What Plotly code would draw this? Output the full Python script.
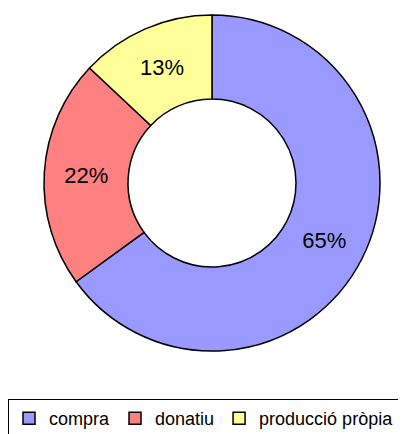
import plotly.graph_objects as go

labels = ["compra", "donatiu", "producció pròpia"]
values = [65, 22, 13]
colors = ["#9999FF", "#FF8080", "#FFFF99"]

# page body adds an 8px margin, so the figure is 8px smaller than the window
W, H = 398, 426

fig = go.Figure(
    go.Pie(
        labels=labels,
        values=values,
        hole=0.5,
        sort=False,
        direction="clockwise",
        rotation=0,
        marker=dict(colors=colors, line=dict(color="black", width=1.5)),
        textinfo="percent",
        texttemplate="%{percent:.0%}",
        textposition="inside",
        insidetextorientation="horizontal",
        textfont=dict(family="Arial, Liberation Sans", size=22, color="black"),
        domain=dict(x=[36 / W, 372 / W], y=[1 - 344 / H, 1 - 6 / H]),
    )
)

fig.update_layout(
    width=W,
    height=H,
    margin=dict(l=0, r=0, t=0, b=0, autoexpand=False),
    paper_bgcolor="white",
    font=dict(family="Arial, Liberation Sans", size=18, color="black"),
    legend=dict(
        orientation="h",
        x=0,
        y=1 - 391 / H,
        xanchor="left",
        yanchor="top",
        bordercolor="black",
        borderwidth=1,
        itemwidth=30,
        tracegroupgap=0,
    ),
)

fig.write_html("out.html")
